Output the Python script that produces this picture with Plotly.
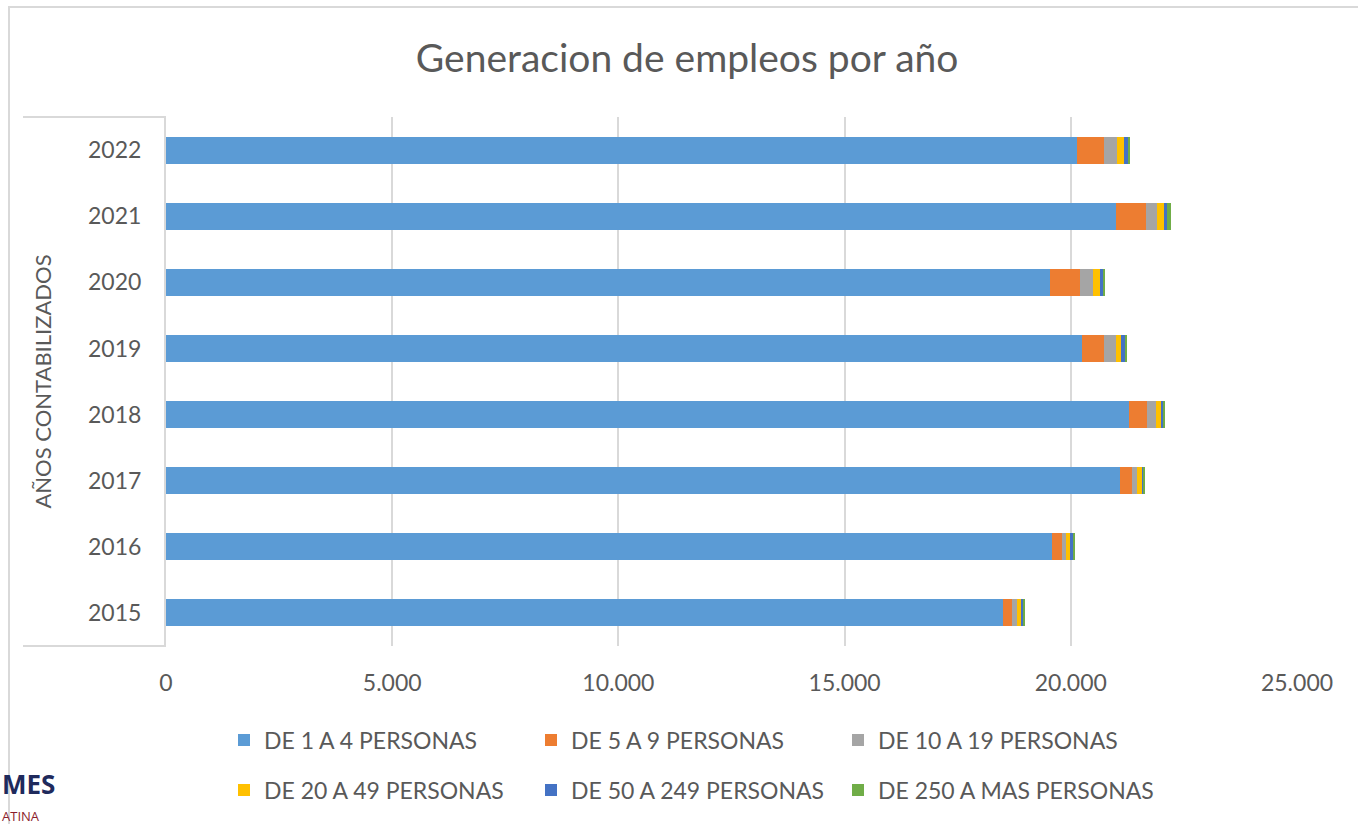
import plotly.graph_objects as go

years = ["2015", "2016", "2017", "2018", "2019", "2020", "2021", "2022"]
series_names = [
    "DE 1 A 4 PERSONAS",
    "DE 5 A 9 PERSONAS",
    "DE 10 A 19 PERSONAS",
    "DE 20 A 49 PERSONAS",
    "DE 50 A 249 PERSONAS",
    "DE 250 A MAS PERSONAS",
]
de_1_a_4 = [18508, 19577, 21088, 21287, 20241, 19540, 20992, 20144]
de_5_a_9 = [192, 221, 258, 404, 500, 663, 664, 596]
de_10_a_19 = [118, 96, 124, 185, 251, 288, 249, 289]
de_20_a_49 = [88, 110, 111, 133, 125, 154, 155, 154]
de_50_a_249 = [44, 37, 30, 36, 103, 67, 73, 97]
de_250_mas = [31, 45, 36, 44, 29, 29, 89, 29]

values = [de_1_a_4, de_5_a_9, de_10_a_19, de_20_a_49, de_50_a_249, de_250_mas]
colors = ["#5B9BD5", "#ED7D31", "#A5A5A5", "#FFC000", "#4472C4", "#70AD47"]

FONT = "Lato"
GREY = "#595959"
W, H = 1358, 824

legend_ids = ["legend", "legend2", "legend3", "legend4", "legend5", "legend6"]
# legend slot positions (pixel x of item start, pixel y of row centre)
col_x = [224, 531, 838]
row_y = [740, 790]

fig = go.Figure()
for i, (name, vals, col) in enumerate(zip(series_names, values, colors)):
    fig.add_trace(go.Bar(
        y=years, x=vals, name=name, orientation="h",
        marker=dict(color=col, line=dict(width=0)),
        legend=legend_ids[i], showlegend=True,
    ))

legend_layout = {}
for i, lid in enumerate(legend_ids):
    legend_layout[lid] = dict(
        orientation="h", xref="container", yref="container",
        x=col_x[i % 3] / W, y=1 - row_y[i // 3] / H,
        xanchor="left", yanchor="middle",
        font=dict(family=FONT, size=23, color=GREY),
        bgcolor="rgba(0,0,0,0)", visible=True,
    )

fig.update_layout(
    width=W, height=H,
    showlegend=True,
    barmode="stack", bargap=0.59,
    separators=",.",
    paper_bgcolor="white", plot_bgcolor="white",
    margin=dict(l=166, r=61, t=117, b=178, autoexpand=False),
    font=dict(family=FONT, color=GREY),
    title=dict(
        text="Generacion de empleos por año",
        font=dict(family=FONT, size=39, color=GREY),
        xref="container", yref="container", x=0.506, y=1 - 58 / 824,
        xanchor="center", yanchor="middle",
    ),
    xaxis=dict(
        range=[0, 25000], tickvals=[0, 5000, 10000, 15000, 20000, 25000],
        tickformat=",d", showgrid=True, gridcolor="#D9D9D9", gridwidth=1.5,
        zeroline=False, showline=False,
        ticks="outside", ticklen=16, tickcolor="rgba(0,0,0,0)",
        tickfont=dict(family=FONT, size=23, color=GREY),
    ),
    yaxis=dict(
        type="category", categoryorder="array", categoryarray=years,
        showgrid=False, zeroline=False, showline=False,
        ticks="outside", ticklen=19, tickcolor="rgba(0,0,0,0)",
        tickfont=dict(family=FONT, size=23, color=GREY),
        title=dict(text="AÑOS CONTABILIZADOS",
                   font=dict(family=FONT, size=22, color=GREY), standoff=30),
    ),
    **legend_layout,
)

pw, ph = 1131.0, 529.0
def px(x):
    return (x - 166) / pw
def py(y):
    return (646 - y) / ph

line = dict(color="#D9D9D9", width=2)
# inner box around category labels
fig.add_shape(type="path", xref="paper", yref="paper",
              path=f"M {px(23)} {py(117)} L {px(165)} {py(117)} L {px(165)} {py(646)} L {px(23)} {py(646)}",
              line=line, layer="above")
# outer chart border (top and left edges visible)
fig.add_shape(type="path", xref="paper", yref="paper",
              path=f"M {px(9)} {py(830)} L {px(9)} {py(7)} L {px(1362)} {py(7)}",
              line=line, layer="below")

# cropped logo fragment
fig.add_annotation(
    text="<b>MES</b>", xref="paper", yref="paper", x=px(0), y=py(804),
    xanchor="left", yanchor="bottom", showarrow=False,
    font=dict(family="Open Sans", size=26, color="#1F2A5C"),
)
fig.add_annotation(
    text="ATINA", xref="paper", yref="paper", x=px(0), y=py(805),
    xanchor="left", yanchor="top", showarrow=False,
    font=dict(family="Open Sans", size=13, color="#8B1D2C"),
)

fig.write_html("out.html", config={"displayModeBar": False},
               post_script="document.body.style.margin='0px';")
